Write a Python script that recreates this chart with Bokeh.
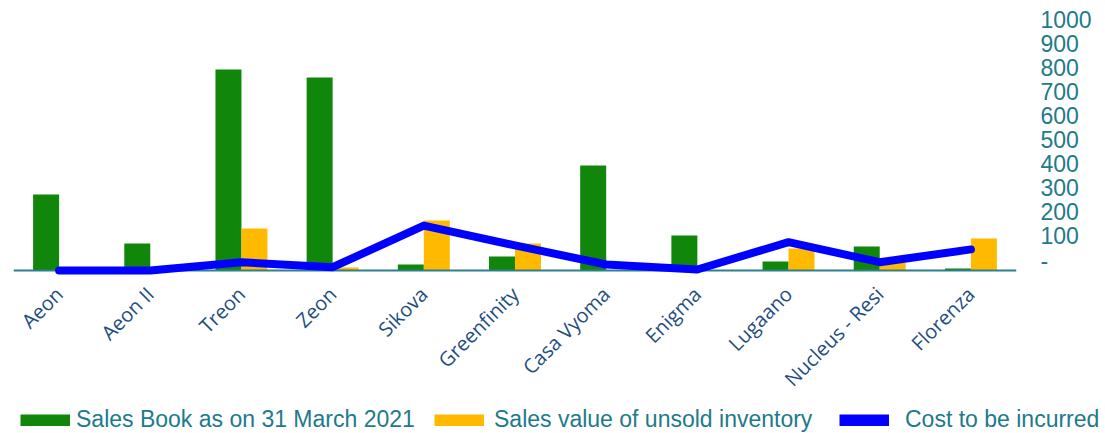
import math
from bokeh.plotting import figure
from bokeh.models import (FactorRange, Range1d, LinearAxis, FixedTicker, Span,
                          Legend, LegendItem, ColumnDataSource)
from bokeh.transform import dodge
from bokeh.embed import file_html
from bokeh.resources import INLINE

categories = ["Aeon", "Aeon II", "Treon", "Zeon", "Sikova", "Greenfinity",
              "Casa Vyoma", "Enigma", "Lugaano", "Nucleus - Resi", "Florenza"]
sales_book = [303, 108, 801, 769, 24, 56, 418, 139, 36, 96, 8]
unsold_value = [0, 0, 167, 12, 199, 108, 0, 0, 88, 30, 127]
cost_to_incur = [0, 0, 33, 13, 179, 100, 24, 4, 113, 33, 84]
axis_ticks = [0, 100, 200, 300, 400, 500, 600, 700, 800, 900, 1000]
series_names = ["Sales Book as on 31 March 2021", "Sales value of unsold inventory",
                "Cost to be incurred"]

GREEN = "#10860A"
YELLOW = "#FFBA00"
BLUE = "#0000FF"
TEAL = "#217A8B"
CAT_COLOR = "#1F4E80"

src = ColumnDataSource(dict(cat=categories, sales=sales_book,
                            unsold=unsold_value, cost=cost_to_incur))

p = figure(x_range=FactorRange(*categories), y_range=Range1d(-31.9, 1039.8),
           width=1105, frame_width=1003, frame_height=269,
           output_backend="svg", toolbar_location=None, y_axis_location=None,
           min_border_left=13, min_border_top=9, min_border_right=89,
           min_border_bottom=128)
p.outline_line_color = None
p.xgrid.visible = False
p.ygrid.visible = False

p.extra_y_ranges = {"axis": Range1d(-76.9, 1041.6)}
raxis = LinearAxis(y_range_name="axis", ticker=FixedTicker(ticks=axis_ticks),
                   major_label_overrides={0: "-"})
raxis.axis_line_color = None
raxis.major_tick_line_color = None
raxis.minor_tick_line_color = None
raxis.major_tick_out = 0
raxis.major_tick_in = 0
raxis.major_label_standoff = 24
raxis.major_label_text_color = TEAL
raxis.major_label_text_font = "Liberation Sans"
raxis.major_label_text_font_size = "23px"
p.add_layout(raxis, "right")

xa = p.xaxis[0]
xa.axis_line_color = None
xa.major_tick_line_color = None
xa.minor_tick_line_color = None
xa.major_tick_out = 0
xa.major_tick_in = 0
xa.major_label_orientation = math.pi / 4
xa.major_label_text_font = "Open Sans"
xa.major_label_text_font_size = "20px"
xa.major_label_text_color = CAT_COLOR
xa.major_label_standoff = 12

p.vbar(x=dodge("cat", -0.1425, range=p.x_range), top="sales", width=0.285,
       source=src, fill_color=GREEN, line_color=None)
p.vbar(x=dodge("cat", 0.1425, range=p.x_range), top="unsold", width=0.285,
       source=src, fill_color=YELLOW, line_color=None)

base = Span(location=0, dimension="width", line_color="#2E7F8E", line_width=2)
p.add_layout(base)

p.line(x="cat", y="cost", source=src, line_color=BLUE, line_width=8,
       line_cap="round", line_join="round", level="overlay")

# legend strip below the chart (separate root so its frame is full width)
q = figure(width=1105, height=27, x_range=Range1d(0, 1), y_range=Range1d(0, 1),
           output_backend="svg", toolbar_location=None,
           x_axis_location=None, y_axis_location=None,
           min_border_left=0, min_border_right=0, min_border_top=0,
           min_border_bottom=0)
q.outline_line_color = None
q.grid.visible = False

legend_colors = [GREEN, YELLOW, BLUE]
legend_x = [20, 434, 839]
legend_standoff = [6, 10, 16]
for name, col, lx, so in zip(series_names, legend_colors, legend_x, legend_standoff):
    sw = q.line(x=[float("nan")], y=[float("nan")], line_color=col,
                line_width=12, line_cap="butt")
    lg = Legend(items=[LegendItem(label=name, renderers=[sw])],
                location=(lx, 0), orientation="horizontal")
    lg.glyph_width = 50
    lg.glyph_height = 12
    lg.label_standoff = so
    lg.padding = 0
    lg.margin = 0
    lg.label_text_font = "Liberation Sans"
    lg.label_text_font_size = "23px"
    lg.label_text_color = TEAL
    lg.border_line_color = None
    lg.background_fill_alpha = 0
    q.add_layout(lg, "center")

open("out.html", "w").write(file_html([p, q], INLINE))
